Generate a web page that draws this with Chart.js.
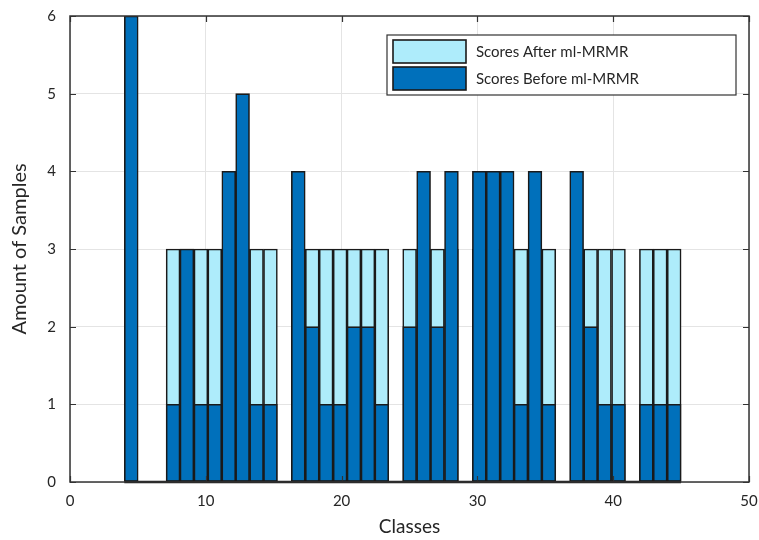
<!DOCTYPE html>
<html>
<head>
<meta charset="utf-8">
<script src="https://cdn.jsdelivr.net/npm/chart.js@4.4.1/dist/chart.umd.min.js"></script>
<style>
  html, body { margin: 0; padding: 0; background: #fff; }
  #wrap { width: 759px; height: 540px; position: relative; }
</style>
</head>
<body>
<div id="wrap"><canvas id="histChart"></canvas></div>
<script>
// bin centres of the 40 histogram bins (x = Classes)
const binCenters = [
  4.51, 5.54, 6.56, 7.59, 8.61, 9.64, 10.66, 11.69, 12.71, 13.74,
  14.76, 15.79, 16.81, 17.84, 18.86, 19.89, 20.91, 21.94, 22.96, 23.99,
  25.01, 26.04, 27.06, 28.09, 29.11, 30.14, 31.16, 32.19, 33.21, 34.24,
  35.26, 36.29, 37.31, 38.34, 39.36, 40.39, 41.41, 42.44, 43.46, 44.49
];
const scoresBefore = [
  6, 0, 0, 1, 3, 1, 1, 4, 5, 1,
  1, 0, 4, 2, 1, 1, 2, 2, 1, 0,
  2, 4, 2, 4, 0, 4, 4, 4, 1, 4,
  1, 0, 4, 2, 1, 1, 0, 1, 1, 1
];
const scoresAfter = [
  0, 0, 0, 3, 3, 3, 3, 3, 3, 3,
  3, 0, 3, 3, 3, 3, 3, 3, 3, 0,
  3, 3, 3, 3, 0, 3, 3, 3, 3, 3,
  3, 0, 3, 3, 3, 3, 0, 3, 3, 3
];
const xTicks = [0, 10, 20, 30, 40, 50];
const yTicks = [0, 1, 2, 3, 4, 5, 6];

const darkBlue = '#0070bb';
const lightBlue = '#aeecfb';
const edgeColor = '#1a1a1a';
const textColor = '#262626';

const toPoints = vals => vals.map((v, i) => ({ x: binCenters[i], y: v > 0 ? v : null }));

// MATLAB style box, inward ticks and boxed legend
const axesBox = {
    id: 'axesBox',
    afterDatasetsDraw(chart) {
        const { ctx, chartArea: a, scales } = chart;
        ctx.save();
        ctx.strokeStyle = '#333';
        ctx.lineWidth = 1.2;
        ctx.beginPath();
        xTicks.forEach(t => {
            const px = Math.round(scales.x.getPixelForValue(t)) + 0.5;
            ctx.moveTo(px, a.bottom); ctx.lineTo(px, a.bottom - 6);
            ctx.moveTo(px, a.top); ctx.lineTo(px, a.top + 6);
        });
        yTicks.forEach(t => {
            const py = Math.round(scales.y.getPixelForValue(t)) + 0.5;
            ctx.moveTo(a.left, py); ctx.lineTo(a.left + 6, py);
            ctx.moveTo(a.right, py); ctx.lineTo(a.right - 6, py);
        });
        ctx.stroke();
        // zero line under the histogram bins
        const x0 = scales.x.getPixelForValue(4), x1 = scales.x.getPixelForValue(45);
        ctx.lineWidth = 2.5;
        ctx.strokeStyle = edgeColor;
        ctx.beginPath();
        ctx.moveTo(x0, a.bottom); ctx.lineTo(x1, a.bottom);
        ctx.stroke();
        ctx.lineWidth = 1.5;
        ctx.strokeStyle = '#333';
        ctx.strokeRect(a.left, a.top, a.right - a.left, a.bottom - a.top);

        // legend
        const w = 349, h = 60;
        const lx = a.right - 13 - w, ly = a.top + 19;
        ctx.fillStyle = '#fff';
        ctx.fillRect(lx, ly, w, h);
        ctx.lineWidth = 1.2;
        ctx.strokeRect(lx, ly, w, h);
        const items = [
            { label: 'Scores After ml-MRMR', color: lightBlue },
            { label: 'Scores Before ml-MRMR', color: darkBlue }
        ];
        ctx.font = "15px Lato";
        ctx.textBaseline = 'middle';
        items.forEach((it, i) => {
            const sy = ly + 5 + i * 27;
            ctx.fillStyle = it.color;
            ctx.fillRect(lx + 6, sy, 73, 23);
            ctx.strokeStyle = edgeColor;
            ctx.lineWidth = 1.6;
            ctx.strokeRect(lx + 6, sy, 73, 23);
            ctx.fillStyle = textColor;
            ctx.fillText(it.label, lx + 89, sy + 12);
        });
        ctx.restore();
    }
};

new Chart(document.getElementById('histChart'), {
    type: 'bar',
    data: {
        datasets: [
            {
                label: 'Scores Before ml-MRMR',
                data: toPoints(scoresBefore),
                backgroundColor: darkBlue,
                borderColor: edgeColor,
                borderWidth: 1.6,
                borderSkipped: false,
                grouped: false,
                barPercentage: 1,
                categoryPercentage: 1
            },
            {
                label: 'Scores After ml-MRMR',
                data: toPoints(scoresAfter),
                backgroundColor: lightBlue,
                borderColor: edgeColor,
                borderWidth: 1.6,
                borderSkipped: false,
                grouped: false,
                barPercentage: 1,
                categoryPercentage: 1
            }
        ]
    },
    options: {
        responsive: true,
        maintainAspectRatio: false,
        animation: false,
        layout: { padding: { top: 16, right: 10, left: 0, bottom: 0 } },
        plugins: {
            legend: { display: false },
            tooltip: { enabled: false }
        },
        scales: {
            x: {
                type: 'linear',
                min: 0,
                max: 50,
                offset: false,
                afterBuildTicks: scale => { scale.ticks = xTicks.map(v => ({ value: v })); },
                afterFit: scale => {
                    scale.height = 58;
                    scale.paddingLeft = 0;
                    scale.paddingRight = 0;
                },
                ticks: { color: textColor, font: { family: 'Lato', size: 15 }, padding: 10, maxRotation: 0 },
                grid: { color: '#e4e4e4', drawTicks: false, offset: false },
                border: { display: false },
                title: {
                    display: true,
                    text: 'Classes',
                    color: textColor,
                    font: { family: 'Lato', size: 19 },
                    padding: { top: 0, bottom: 2 }
                }
            },
            y: {
                min: 0,
                max: 6,
                afterBuildTicks: scale => { scale.ticks = yTicks.map(v => ({ value: v })); },
                afterFit: scale => {
                    scale.width = 70;
                    scale.paddingTop = 0;
                    scale.paddingBottom = 0;
                },
                ticks: { color: textColor, font: { family: 'Lato', size: 15 }, padding: 14 },
                grid: { color: '#e4e4e4', drawTicks: false },
                border: { display: false },
                title: {
                    display: true,
                    text: 'Amount of Samples',
                    color: textColor,
                    font: { family: 'Lato', size: 20 },
                    padding: { top: 8, bottom: 0 }
                }
            }
        }
    },
    plugins: [axesBox]
});
</script>
</body>
</html>
